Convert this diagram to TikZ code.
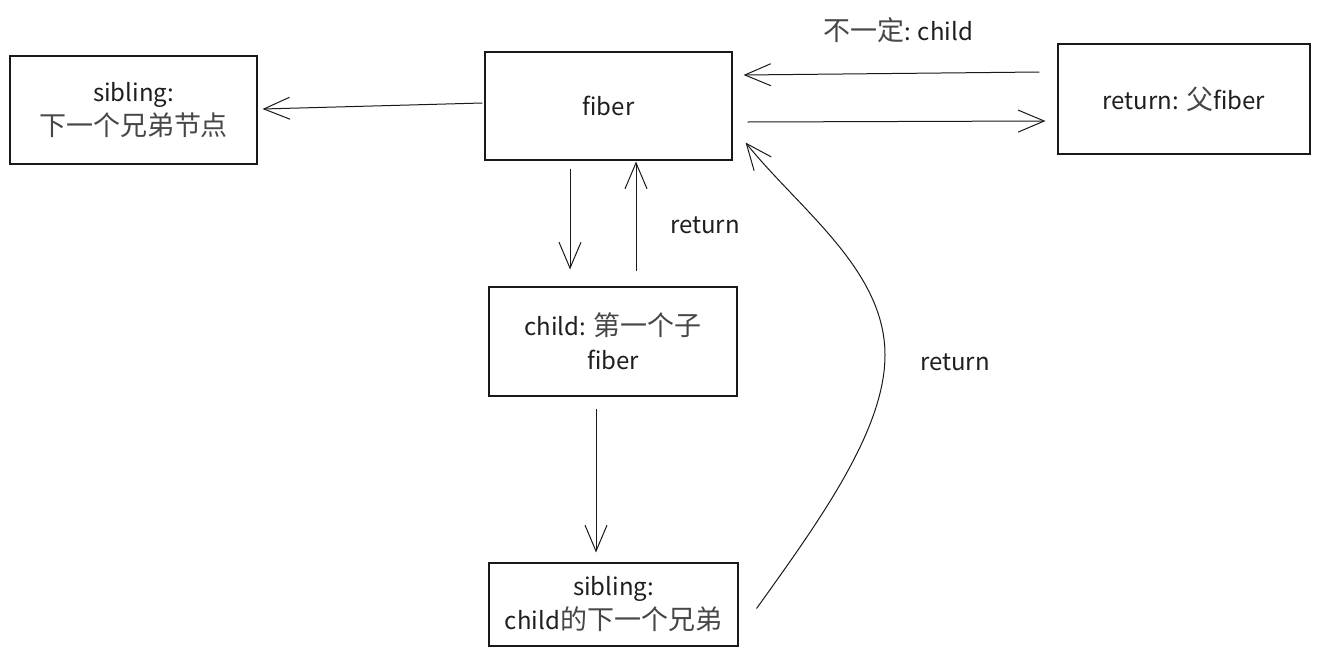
\documentclass[tikz,border=0pt]{standalone}
\usepackage{fontspec}
\setmainfont{Noto Sans CJK SC}
\usetikzlibrary{arrows.meta,calc}
\newcommand{\zh}[1]{{\fontsize{27}{34}\selectfont\color{black!72}#1}}
\tikzset{
  box/.style={draw=black!90, line width=1.1pt, minimum width=#1, inner sep=0pt, align=center, font=\fontsize{24}{34}\selectfont, text=black!88},
  arr/.style={draw=black!90, line width=1pt, -{Straight Barb[length=26pt,width=22pt,line width=1pt]}},
  lbl/.style={font=\fontsize{24}{28}\selectfont, text=black!88, inner sep=0pt}
}
\begin{document}
\begin{tikzpicture}[x=1pt,y=-1pt]
\useasboundingbox[fill=white] (0,0) rectangle (1318,654);
\node[box=247pt, minimum height=108pt] (sib) at (133.5,110) {sibling:\\\zh{下一个兄弟节点}};
\node[box=247pt, minimum height=108pt] (fiber) at (608.5,106) {fiber};
\node[box=252pt, minimum height=110pt] (ret) at (1184,99) {return: \zh{父}fiber};
\node[box=248pt, minimum height=109pt] (child) at (613,341.5) {child: \zh{第一个子}\\fiber};
\node[box=249pt, minimum height=83pt] (sib2) at (613.5,604.5) {sibling:\\child\zh{的下一个兄弟}};

\node[lbl] (l1) at (898,30) {\zh{不一定}: child};
\node[lbl] (l2) at (705,225) {return};
\node[lbl] (l3) at (955,362) {return};

\draw[arr] ([xshift=-2pt,yshift=3pt]fiber.west) -- ([xshift=5pt,yshift=1pt]sib.east);
\draw[arr] ([xshift=-18pt,yshift=27pt]ret.west) -- ([xshift=11pt,yshift=31pt]fiber.east);
\draw[arr] ([xshift=15pt,yshift=-16pt]fiber.east) -- ([xshift=-12pt,yshift=-22pt]ret.west);
\draw[arr] ([xshift=-38.5pt,yshift=-8pt]fiber.south) -- ([xshift=-43pt,yshift=17pt]child.north);
\draw[arr] ([xshift=23pt,yshift=15pt]child.north) -- ([xshift=27.5pt,yshift=-1pt]fiber.south);
\draw[arr] ([xshift=-17pt,yshift=-12pt]child.south) -- ([xshift=-17.5pt,yshift=10pt]sib2.north);
\coordinate (c1) at (885,355);
\draw[arr] ([xshift=18pt,yshift=-4pt]sib2.east) .. controls (820,520) and (885,430) .. (c1)
  .. controls (885,270) and (800,210) .. ([xshift=13pt,yshift=18pt]fiber.south east);
\end{tikzpicture}
\end{document}
